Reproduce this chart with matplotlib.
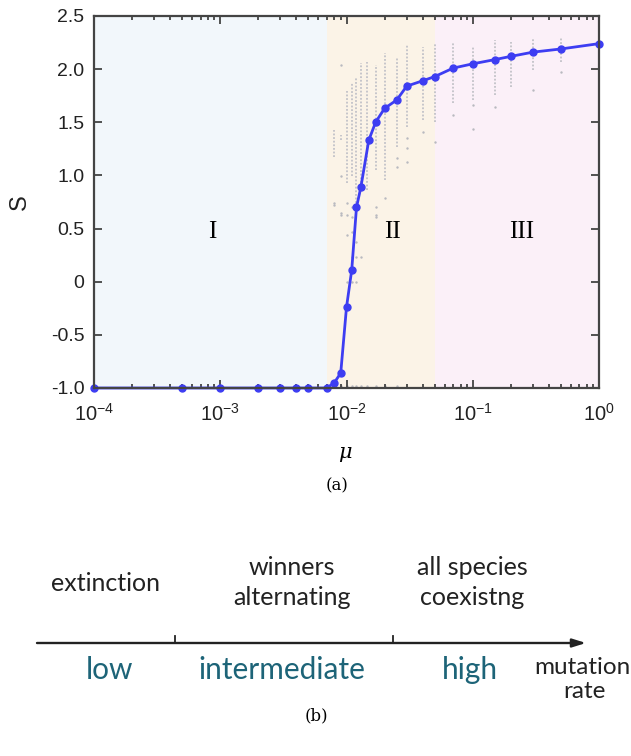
import matplotlib
matplotlib.use("Agg")
import matplotlib.pyplot as plt
from matplotlib.ticker import LogLocator, NullFormatter

# mean S versus mutation rate mu
MU = [1e-4, 5e-4, 1e-3, 2e-3, 3e-3, 4e-3, 5e-3, 7e-3, 8e-3, 9e-3, 1e-2, 1.1e-2,
      1.2e-2, 1.3e-2, 1.5e-2, 1.7e-2, 2e-2, 2.5e-2, 3e-2, 4e-2, 5e-2, 7e-2,
      0.1, 0.15, 0.2, 0.3, 0.5, 1.0]
S_MEAN = [-1.0, -1.0, -1.0, -1.0, -1.0, -1.0, -1.0, -1.0, -0.95, -0.86, -0.24, 0.11,
          0.70, 0.89, 1.33, 1.50, 1.63, 1.71, 1.84, 1.89, 1.93, 2.01,
          2.05, 2.09, 2.12, 2.16, 2.19, 2.24]

# raw runs: dense range per mu (low, high) plus scattered single runs
RAW_MU = [8e-3, 9e-3, 1e-2, 1.1e-2, 1.2e-2, 1.3e-2, 1.45e-2, 1.7e-2, 2e-2, 2.5e-2,
          3e-2, 4e-2, 5e-2, 7e-2, 0.1, 0.15, 0.2, 0.3, 0.5, 1.0]
RAW_LO = [1.17, 1.33, 0.93, 0.99, 0.74, 0.86, 0.86, 1.05, 0.96, 1.27,
          1.46, 1.52, 1.50, 1.68, 1.71, 1.76, 1.83, 1.99, 2.07, 2.10]
RAW_HI = [1.43, 1.38, 1.79, 1.87, 1.93, 2.06, 2.07, 2.04, 2.15, 2.11,
          2.23, 2.21, 2.25, 2.25, 2.22, 2.27, 2.26, 2.28, 2.29, 2.30]
RAW_EXTRA = [
    [0.74, 0.72, -0.98],
    [2.04, 0.99, 0.65, 0.63, -0.98],
    [0.74, 0.63, 0.44, 0.0, -0.98],
    [0.70, 0.61, 0.47, 0.23, 0.0, -0.98],
    [0.37, 0.23, 0.0, -0.98],
    [0.23, -0.98],
    [-0.98],
    [0.70, 0.63, 0.61, -0.98],
    [0.79, -0.98],
    [1.16, 1.08, -0.98],
    [1.35, 1.26, 1.13],
    [1.41],
    [1.31],
    [1.57],
    [1.66, 1.44],
    [1.64],
    [],
    [1.80],
    [1.97],
    [],
]

# phase boundaries
PHASE_EDGES = [1e-4, 7e-3, 5e-2, 1.0]
PHASE_COLORS = ["#f2f7fb", "#fbf3e7", "#fbf0f8"]
PHASE_NAMES = ["I", "II", "III"]
PHASE_LABEL_MU = [8.6e-4, 2.33e-2, 0.246]

Y_TICKS = [-1.0, -0.5, 0, 0.5, 1.0, 1.5, 2.0, 2.5]
Y_TICKLABELS = ["-1.0", "-0.5", "0", "0.5", "1.0", "1.5", "2.0", "2.5"]
X_TICKS = [1e-4, 1e-3, 1e-2, 1e-1, 1e0]
X_TICKLABELS = [r"$\mathregular{10^{-4}}$", r"$\mathregular{10^{-3}}$",
                r"$\mathregular{10^{-2}}$", r"$\mathregular{10^{-1}}$",
                r"$\mathregular{10^{0}}$"]

# schematic (b): (x centre, baseline y, text) in pixels
B_TOP = [(105, 591, "extinction"),
         (292, 575, "winners"), (292, 605, "alternating"),
         (472, 575, "all species"), (472, 605, "coexistng")]
B_AXIS_NAME = [(582, 674, "mutation"), (584, 698, "rate")]
B_BOTTOM = [(109, 679, "low"), (282, 679, "intermediate"), (470, 679, "high")]

SANS = "Liberation Sans"
SERIF = "DejaVu Serif"
TEAL = "#1d6478"
SPINE = "#444444"
LINE = "#3d3df2"


def main() -> None:
    plt.rcParams["mathtext.fontset"] = "custom"
    plt.rcParams["mathtext.rm"] = SANS
    plt.rcParams["mathtext.it"] = SANS + ":italic"

    fig = plt.figure(figsize=(6.31, 7.56), dpi=100)
    ax = fig.add_axes([94 / 631, 1 - 388 / 756, 505 / 631, 372 / 756])

    # phase shading
    for i in range(3):
        ax.axvspan(PHASE_EDGES[i], PHASE_EDGES[i + 1], color=PHASE_COLORS[i],
                   lw=0, zorder=0)
        ax.text(PHASE_LABEL_MU[i], 0.47, PHASE_NAMES[i], ha="center", va="center",
                fontsize=18, family="Liberation Serif", zorder=3)

    # raw runs
    ax.vlines(RAW_MU, RAW_LO, RAW_HI, colors="#c2c2c8", lw=1.3,
              linestyles=(0, (1, 1)), zorder=1)
    ex_x = [m for m, vals in zip(RAW_MU, RAW_EXTRA) for _ in vals]
    ex_y = [v for vals in RAW_EXTRA for v in vals]
    ax.scatter(ex_x, ex_y, s=3, color="#b9b9c0", lw=0, zorder=1)

    # mean curve
    ax.plot(MU, S_MEAN, color=LINE, lw=2, marker="o", ms=5, zorder=4, clip_on=False)

    ax.set_xscale("log")
    ax.set_xlim(1e-4, 1.0)
    ax.set_ylim(-1.0, 2.5)
    ax.set_xticks(X_TICKS)
    ax.set_xticklabels(X_TICKLABELS)
    ax.xaxis.set_minor_locator(LogLocator(base=10, subs=range(2, 10)))
    ax.xaxis.set_minor_formatter(NullFormatter())
    ax.set_yticks(Y_TICKS)
    ax.set_yticklabels(Y_TICKLABELS)
    ax.tick_params(which="both", direction="in", top=True, right=True,
                   color=SPINE, labelcolor="#222222", width=1.3)
    ax.tick_params(which="major", length=6)
    ax.tick_params(which="minor", length=3)
    ax.tick_params(axis="x", which="major", labelsize=14.5, pad=11)
    ax.tick_params(axis="y", which="major", labelsize=14, pad=7)
    for lab in ax.get_xticklabels() + ax.get_yticklabels():
        lab.set_family(SANS)
    for sp in ax.spines.values():
        sp.set_color(SPINE)
        sp.set_linewidth(1.6)
        sp.set_zorder(5)

    ax.set_ylabel("S", fontsize=17, family=SANS, labelpad=14, color="#222222")
    fig.text(345 / 631, 1 - 453 / 756, "μ", fontsize=15, ha="center",
             va="center", family=SERIF, style="italic")
    fig.text(337 / 631, 1 - 486 / 756, "(a)", fontsize=12, ha="center",
             va="center", family=SERIF)

    # schematic panel in pixel coordinates
    bx = fig.add_axes([0, 0, 1, 1], zorder=-1)
    bx.set_xlim(0, 631)
    bx.set_ylim(756, 0)
    bx.axis("off")
    bx.patch.set_alpha(0)

    bx.annotate("", xy=(586, 643), xytext=(37, 643),
                arrowprops=dict(arrowstyle="-|>,head_length=0.8,head_width=0.25",
                                color="#222222", lw=1.7, shrinkA=0, shrinkB=0))
    for tx in (175, 393):
        bx.plot([tx, tx], [643, 636], color="#222222", lw=1.3)

    for x, y, s in B_TOP:
        bx.text(x, y, s, ha="center", va="baseline", fontsize=18, family="Lato",
                color="#222222")
    for x, y, s in B_AXIS_NAME:
        bx.text(x, y, s, ha="center", va="baseline", fontsize=17.5, family="Lato",
                color="#222222")
    for x, y, s in B_BOTTOM:
        bx.text(x, y, s, ha="center", va="baseline", fontsize=21.5, family="Lato",
                color=TEAL)
    bx.text(316, 716, "(b)", ha="center", va="center", fontsize=12, family=SERIF)

    fig.savefig("out.png", dpi=100)
    plt.close(fig)


if __name__ == "__main__":
    main()
